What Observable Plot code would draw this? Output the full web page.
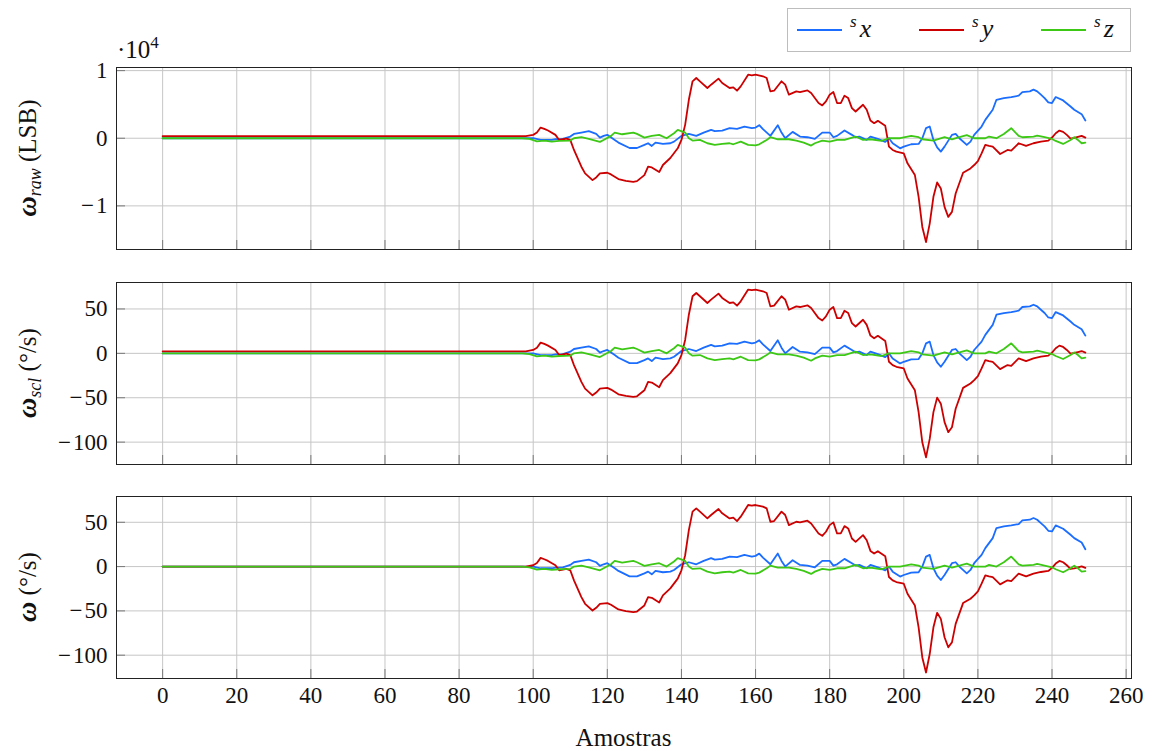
<!DOCTYPE html>
<html><head><meta charset="utf-8">
<script src="https://cdn.jsdelivr.net/npm/d3@7"></script>
<script src="https://cdn.jsdelivr.net/npm/@observablehq/plot@0.6"></script>
<style>
body{margin:0;background:#fff;}
#chart{position:relative;width:1154px;height:751px;}
#chart svg{position:absolute;left:0;}
#chart svg text{font-family:'Liberation Serif','Times New Roman',serif;}
#chart svg g[aria-label$="tick label"]{font-size:23px !important;}
#chart svg g[aria-label$="tick label"] text{font-size:23px !important;font-family:'Liberation Serif','Times New Roman',serif !important;}
</style></head><body><div id="chart"></div>
<script>
// ---- data ----
const xTicks = [0,20,40,60,80,100,120,140,160,180,200,220,240,260];
const yTicksRaw = [-10000,0,10000];
const yTicksDps = [-100,-50,0,50];
const seriesNames = ["x","y","z"];

// sx (blue)
const samplesX = [0,98,100,102,105,106,108,110,111,113,
 115,117,118,119,120,122,123,126,128,130,
 131,132,133,135,137,138,140,142,144,146,
 148,149,151,153,155,157,159,160,161,162,
 164,166,167,168,170,172,174,176,178,180,
 181,182,184,186,187,188,190,191,193,195,
 196,197,199,200,202,204,205,206,207,208,
 209,210,211,213,214,215,217,218,219,221,
 222,224,225,227,229,231,232,234,235,236,
 237,238,239,240,241,243,245,246,248,249];
const rawX = [0,0,0,-250,-250,-150,-100,250,640,840,
 1040,640,100,350,500,-250,-640,-1440,-1440,-990,
 -740,-1140,-640,-840,-740,-500,350,640,350,840,
 1240,1040,1140,1490,1390,1730,1490,1580,1930,1340,
 350,1930,840,0,940,250,150,-100,840,840,
 150,350,1140,500,150,250,-250,250,-100,-540,
 0,-740,-1490,-1240,-890,-840,0,1490,1730,-250,
 -1340,-1980,-1240,500,640,0,-990,-500,500,1730,
 2720,4210,5690,5940,6090,6290,6830,6930,7180,6930,
 6440,5940,5300,5200,6090,5590,4700,4210,3560,2620];
const sclX = [0,0,0,-1.9,-1.9,-1.1,-0.8,1.9,4.9,6.4,
 7.9,4.9,0.8,2.6,3.8,-1.9,-4.9,-11.0,-11.0,-7.6,
 -5.7,-8.7,-4.9,-6.4,-5.7,-3.8,2.6,4.9,2.6,6.4,
 9.5,7.9,8.7,11.3,10.6,13.2,11.3,12.1,14.7,10.2,
 2.6,14.7,6.4,0,7.2,1.9,1.1,-0.8,6.4,6.4,
 1.1,2.6,8.7,3.8,1.1,1.9,-1.9,1.9,-0.8,-4.2,
 0,-5.7,-11.3,-9.5,-6.8,-6.4,0,11.3,13.2,-1.9,
 -10.2,-15.1,-9.5,3.8,4.9,0,-7.6,-3.8,3.8,13.2,
 20.8,32.1,43.5,45.4,46.5,48.0,52.2,52.9,54.8,52.9,
 49.1,45.4,40.4,39.7,46.5,42.7,35.9,32.1,27.2,20.0];
const calX = [0,0,0,-1.9,-1.9,-1.1,-0.8,1.9,4.9,6.4,
 7.9,4.9,0.8,2.6,3.8,-1.9,-4.9,-11.0,-11.0,-7.6,
 -5.7,-8.7,-4.9,-6.4,-5.7,-3.8,2.6,4.9,2.6,6.4,
 9.5,7.9,8.7,11.3,10.6,13.2,11.3,12.1,14.7,10.2,
 2.6,14.7,6.4,0,7.2,1.9,1.1,-0.8,6.4,6.4,
 1.1,2.6,8.7,3.8,1.1,1.9,-1.9,1.9,-0.8,-4.2,
 0,-5.7,-11.3,-9.5,-6.8,-6.4,0,11.3,13.2,-1.9,
 -10.2,-15.1,-9.5,3.8,4.9,0,-7.6,-3.8,3.8,13.2,
 20.8,32.1,43.5,45.4,46.5,48.0,52.2,52.9,54.8,52.9,
 49.1,45.4,40.4,39.7,46.5,42.7,35.9,32.1,27.2,19.6];

// sy (red)
const samplesY = [0,96,98,100,101,102,103,104,106,107,
 108,109,110,111,113,114,116,117,118,120,
 121,123,125,127,128,130,131,132,134,135,
 137,139,140,141,142,143,144,145,147,148,
 150,151,153,154,155,156,158,159,160,162,
 163,164,165,167,168,169,171,172,174,175,
 177,178,179,180,181,182,183,184,185,186,
 187,189,190,191,192,193,195,196,197,198,
 200,201,203,204,205,206,207,208,209,210,
 211,212,213,214,216,218,219,220,221,222,
 223,224,226,228,229,231,233,235,237,239,
 240,241,242,243,244,245,246,247,248,249];
const rawY = [300,300,300,500,840,1580,1390,1140,500,-250,
 -150,-50,-250,-1730,-4210,-5200,-6190,-5790,-5200,-5100,
 -5350,-6040,-6290,-6440,-6340,-5450,-4210,-4310,-5000,-3960,
 -2920,-1490,-250,1980,5690,8420,8910,8420,7430,7920,
 8810,8170,7430,7520,7030,7670,9400,9310,9400,9160,
 8910,6930,7030,8420,7920,6440,6930,6830,7080,6680,
 5200,4850,5450,6440,6830,5200,5200,6290,5940,4460,
 3960,4950,4210,2620,2230,2570,1830,-1240,-1730,-1980,
 -2230,-3710,-5450,-8660,-13120,-15350,-12620,-8660,-6530,-7430,
 -10150,-11630,-10890,-8170,-5100,-4460,-3960,-3370,-2230,-990,
 -1140,-1240,-2330,-1730,-1830,-740,-1140,-740,-500,-350,
 100,740,1140,940,500,-50,50,200,350,100];
const sclY = [2.3,2.3,2.3,3.8,6.4,12.1,10.6,8.7,3.8,-1.9,
 -1.1,-0.4,-1.9,-13.2,-32.1,-39.7,-47.3,-44.2,-39.7,-38.9,
 -40.8,-46.1,-48.0,-49.1,-48.4,-41.6,-32.1,-32.9,-38.2,-30.2,
 -22.3,-11.3,-1.9,15.1,43.5,64.3,68.0,64.3,56.7,60.5,
 67.3,62.4,56.7,57.5,53.7,58.6,71.8,71.1,71.8,69.9,
 68.0,52.9,53.7,64.3,60.5,49.1,52.9,52.2,54.1,51.0,
 39.7,37.0,41.6,49.1,52.2,39.7,39.7,48.0,45.4,34.0,
 30.2,37.8,32.1,20.0,17.0,19.7,14.0,-9.5,-13.2,-15.1,
 -17.0,-28.4,-41.6,-66.2,-100.2,-117.2,-96.4,-66.2,-49.9,-56.7,
 -77.5,-88.8,-83.2,-62.4,-38.9,-34.0,-30.2,-25.7,-17.0,-7.6,
 -8.7,-9.5,-17.8,-13.2,-14.0,-5.7,-8.7,-5.7,-3.8,-2.6,
 0.8,5.7,8.7,7.2,3.8,-0.4,0.4,1.5,2.6,0.8];
const calY = [0,0,0,1.5,4.1,9.8,8.3,6.4,1.5,-4.2,
 -3.4,-2.7,-4.2,-15.5,-34.4,-42.0,-49.6,-46.5,-42.0,-41.2,
 -43.1,-48.4,-50.3,-51.4,-50.7,-43.9,-34.4,-35.2,-40.5,-32.5,
 -24.6,-13.6,-4.2,12.8,41.2,62.0,65.7,62.0,54.4,58.2,
 65.0,60.1,54.4,55.2,51.4,56.3,69.5,68.8,69.5,67.6,
 65.7,50.6,51.4,62.0,58.2,46.8,50.6,49.9,51.8,48.7,
 37.4,34.7,39.3,46.8,49.9,37.4,37.4,45.7,43.1,31.7,
 27.9,35.5,29.8,17.7,14.7,17.4,11.7,-11.8,-15.5,-17.4,
 -19.3,-30.7,-43.9,-68.5,-102.5,-119.5,-98.7,-68.5,-52.2,-59.0,
 -79.8,-91.1,-85.5,-64.7,-41.2,-36.3,-32.5,-28.0,-19.3,-9.9,
 -11.0,-11.8,-20.1,-15.5,-16.3,-8.0,-11.0,-8.0,-6.1,-4.9,
 -1.5,3.4,6.4,4.9,1.5,-2.7,-1.9,-0.8,0.3,-1.5];

// sz (green)
const samplesZ = [0,97,99,101,103,105,107,110,111,113,
 115,118,119,121,122,124,127,128,130,132,
 134,136,138,139,141,142,143,145,147,149,
 151,153,154,156,158,160,161,163,164,166,
 169,171,173,175,176,178,180,182,184,187,
 189,191,194,196,199,202,204,205,208,211,
 213,215,217,219,222,223,225,227,229,231,
 232,235,236,238,240,241,243,245,246,247,
 248,249];
const rawZ = [0,0,-100,-450,-350,-500,-400,-350,0,150,
 -100,-540,-250,350,840,590,840,640,100,350,
 500,0,740,1240,840,0,-350,-250,-740,-990,
 -840,-740,-890,-500,-990,-1040,-890,-250,150,-150,
 -150,-350,-640,-1090,-740,-350,-500,-250,-250,250,
 -250,-150,-400,0,0,350,150,-150,-350,150,
 -150,150,450,0,0,250,0,640,1490,350,
 150,250,400,150,-100,-400,-840,-250,150,-250,
 -740,-640];
const sclZ = [0,0,-0.8,-3.4,-2.6,-3.8,-3.0,-2.6,0,1.1,
 -0.8,-4.2,-1.9,2.6,6.4,4.5,6.4,4.9,0.8,2.6,
 3.8,0,5.7,9.5,6.4,0,-2.6,-1.9,-5.7,-7.6,
 -6.4,-5.7,-6.8,-3.8,-7.6,-7.9,-6.8,-1.9,1.1,-1.1,
 -1.1,-2.6,-4.9,-8.3,-5.7,-2.6,-3.8,-1.9,-1.9,1.9,
 -1.9,-1.1,-3.0,0,0,2.6,1.1,-1.1,-2.6,1.1,
 -1.1,1.1,3.4,0,0,1.9,0,4.9,11.3,2.6,
 1.1,1.9,3.0,1.1,-0.8,-3.0,-6.4,-1.9,1.1,-1.9,
 -5.7,-4.9];
const calZ = [0,0,-0.8,-3.4,-2.6,-3.8,-3.0,-2.6,0,1.1,
 -0.8,-4.2,-1.9,2.6,6.4,4.5,6.4,4.9,0.8,2.6,
 3.8,0,5.7,9.5,6.4,0,-2.6,-1.9,-5.7,-7.6,
 -6.4,-5.7,-6.8,-3.8,-7.6,-7.9,-6.8,-1.9,1.1,-1.1,
 -1.1,-2.6,-4.9,-8.3,-5.7,-2.6,-3.8,-1.9,-1.9,1.9,
 -1.9,-1.1,-3.0,0,0,2.6,1.1,-1.1,-2.6,1.1,
 -1.1,1.1,3.4,0,0,1.9,0,4.9,11.3,2.6,
 1.1,1.9,3.0,1.1,-0.8,-3.0,-6.4,-1.9,1.1,-1.9,
 -5.7,-5.2];

// ---- styling / layout ----
const colors = {x: "#1a6dff", y: "#cc0000", z: "#3cc814"};
const FONT = "'Liberation Serif', 'Times New Roman', serif";
const FS = 23;
const W = 1154, ML = 116, MR = 23, FH = 182;
const FW = W - ML - MR;
const fmtMinus = v => (v < 0 ? "\u2212\u200A" : "") + Math.abs(v);

const tbl = (xs, vs) => xs.map((s, i) => ({s, v: vs[i]}));

const panels = [
  {top: 0, mt: 67, mb: 17, domain: [-16450, 10460], ticks: yTicksRaw, fmt: d => fmtMinus(d / 1e4),
   data: {x: tbl(samplesX, rawX), y: tbl(samplesY, rawY), z: tbl(samplesZ, rawZ)}, showX: false},
  {top: 266, mt: 16, mb: 16, domain: [-125.2, 79.8], ticks: yTicksDps, fmt: fmtMinus,
   data: {x: tbl(samplesX, sclX), y: tbl(samplesY, sclY), z: tbl(samplesZ, sclZ)}, showX: false},
  {top: 480, mt: 16, mb: 73, domain: [-126.3, 79.1], ticks: yTicksDps, fmt: fmtMinus,
   data: {x: tbl(samplesX, calX), y: tbl(samplesY, calY), z: tbl(samplesZ, calZ)}, showX: true}
];

const chart = document.getElementById("chart");
const svgs = panels.map(p => {
  const marks = [
    Plot.gridX(xTicks, {stroke: "#c6c6c6", strokeOpacity: 1, strokeWidth: 1}),
    Plot.gridY(p.ticks, {stroke: "#c6c6c6", strokeOpacity: 1, strokeWidth: 1}),
    Plot.tickX(xTicks, {x: d => d, stroke: "#7a7a7a", strokeWidth: 1, insetTop: FH - 9}),
    Plot.tickY(p.ticks, {y: d => d, stroke: "#7a7a7a", strokeWidth: 1, insetRight: FW - 9}),
    ...seriesNames.map(k => Plot.line(p.data[k], {x: "s", y: "v", stroke: colors[k], strokeWidth: 1.8, strokeLinejoin: "round"})),
    Plot.frame({stroke: "#222", strokeWidth: 1}),
    Plot.axisY(p.ticks, {tickSize: 0, tickPadding: 9, tickFormat: p.fmt, label: null, fontSize: FS, fill: "#111"})
  ];
  if (p.showX) marks.push(Plot.axisX(xTicks, {tickSize: 0, tickPadding: 8, tickFormat: d => String(d), label: null, fontSize: FS, fill: "#111"}));
  const svg = Plot.plot({
    width: W,
    height: p.mt + FH + p.mb,
    marginLeft: ML, marginRight: MR, marginTop: p.mt, marginBottom: p.mb,
    style: {fontFamily: FONT, fontSize: FS + "px", background: "transparent", color: "#111", overflow: "visible"},
    x: {domain: [-12.45, 261.45], axis: null},
    y: {domain: p.domain, axis: null},
    marks
  });
  svg.style.top = p.top + "px";
  chart.appendChild(svg);
  return svg;
});

// y-axis labels
const ylabels = [
  [{t: "\u03C9", b: true}, {t: "raw", sub: true}, {t: " (LSB)"}],
  [{t: "\u03C9", b: true}, {t: "scl", sub: true}, {t: " (\u00B0/s)"}],
  [{t: "\u03C9", b: true}, {t: " (\u00B0/s)"}]
];
svgs.forEach((svg, i) => {
  const p = panels[i];
  const cy = p.mt + FH / 2;
  const t = d3.select(svg).append("text")
    .attr("transform", `translate(36,${cy}) rotate(-90)`)
    .attr("text-anchor", "middle")
    .attr("font-family", FONT).attr("font-size", 25).attr("fill", "#111");
  let shifted = false;
  ylabels[i].forEach(part => {
    const ts = t.append("tspan").text(part.t);
    if (part.b) ts.attr("font-weight", "bold").attr("font-style", "italic").attr("font-size", 28);
    if (part.sub) { ts.attr("font-style", "italic").attr("font-size", 18).attr("dy", 5); shifted = true; }
    else if (shifted) { ts.attr("dy", -5); shifted = false; }
  });
});

// exponent label above panel 1
{
  const t = d3.select(svgs[0]).append("text").attr("x", 117).attr("y", 58)
    .attr("text-anchor", "start")
    .attr("font-family", FONT).attr("font-size", 25).attr("fill", "#111");
  t.append("tspan").text("\u00B710");
  t.append("tspan").text("4").attr("font-size", 17).attr("dy", -10);
}

// legend
{
  const g = d3.select(svgs[0]).append("g");
  g.append("rect").attr("x", 787.5).attr("y", 8.5).attr("width", 343).attr("height", 43)
    .attr("fill", "#fff").attr("stroke", "#bdbdbd").attr("stroke-width", 1);
  const xs = [797, 919, 1041];
  seriesNames.forEach((k, i) => {
    g.append("line").attr("x1", xs[i]).attr("x2", xs[i] + 45).attr("y1", 30).attr("y2", 30)
      .attr("stroke", colors[k]).attr("stroke-width", 1.8);
    const t = g.append("text").attr("x", xs[i] + 53).attr("y", 37)
      .attr("text-anchor", "start")
      .attr("font-family", FONT).attr("font-size", 26).attr("font-style", "italic").attr("fill", "#111");
    t.append("tspan").text("s").attr("font-size", 17).attr("dy", -10);
    t.append("tspan").text(k).attr("dx", 3).attr("dy", 10);
  });
}

// x-axis title
d3.select(svgs[2]).append("text")
  .attr("x", ML + FW / 2).attr("y", 266)
  .attr("text-anchor", "middle")
  .attr("font-family", FONT).attr("font-size", 25).attr("fill", "#111")
  .text("Amostras");
</script></body></html>
